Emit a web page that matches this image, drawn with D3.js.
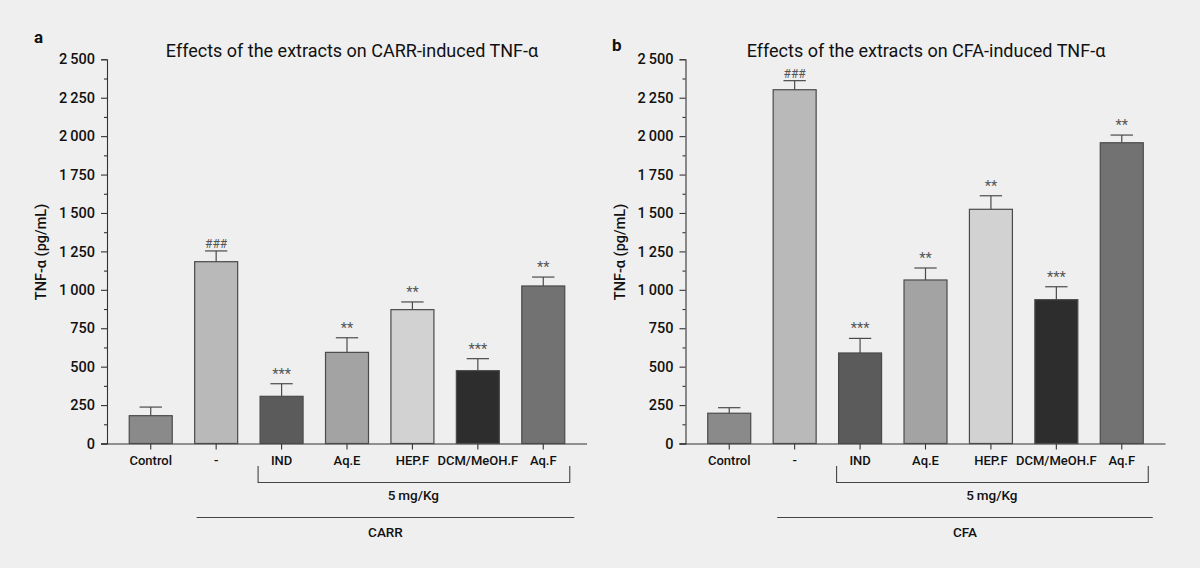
<!DOCTYPE html>
<html>
<head>
<meta charset="utf-8">
<script src="https://cdn.jsdelivr.net/npm/d3@7"></script>
<style>
  html, body { margin: 0; padding: 0; background: #efefef; }
  svg { display: block; font-family: Roboto, "Open Sans", sans-serif; font-weight: 500; }
</style>
</head>
<body>
<svg id="chart" width="1200" height="568"></svg>
<script>
// groups on the x axis
const groups = ["Control", "-", "IND", "Aq.E", "HEP.F", "DCM/MeOH.F", "Aq.F"];

// panel a : CARR
const carrMean = [181, 1183, 307, 593, 871, 474, 1025];
const carrSem = [56, 70, 82, 95, 50, 78, 58];
const carrSig = ["", "###", "***", "**", "**", "***", "**"];

// panel b : CFA
const cfaMean = [197, 2302, 589, 1064, 1524, 936, 1957];
const cfaSem = [36, 59, 95, 78, 88, 84, 50];
const cfaSig = ["", "###", "***", "**", "**", "***", "**"];

const yTicks = [0, 250, 500, 750, 1000, 1250, 1500, 1750, 2000, 2250, 2500];
const yMinor = [125, 375, 625, 875, 1125, 1375, 1625, 1875, 2125, 2375];

const barFill = ["#8a8a8a", "#b9b9b9", "#5b5b5b", "#a3a3a3", "#d2d2d2", "#2d2d2d", "#727272"];

const svg = d3.select("#chart");
const fmt = d3.formatLocale({ decimal: ".", thousands: "\u2009", grouping: [3], currency: ["", ""] }).format(",");

function drawPanel(opt) {
  const g = svg.append("g");
  const x = d3.scaleBand().domain(groups).range([opt.x0, opt.x0 + 480])
    .paddingInner(0.343).paddingOuter(0.34);
  const y = d3.scaleLinear().domain([0, 2500]).range([443.5, 59.3]);
  const color = d3.scaleOrdinal().domain(groups).range(barFill);
  const bw = x.bandwidth();

  // y axis
  const ya = g.append("g").attr("transform", `translate(${opt.x0},0)`)
    .call(d3.axisLeft(y).tickValues(yTicks).tickSize(6).tickPadding(6).tickFormat(d => fmt(d)));
  ya.attr("font-family", null);
  ya.selectAll("text").attr("font-size", 14.5).attr("fill", "#111");
  const ym = g.append("g").attr("transform", `translate(${opt.x0},0)`)
    .call(d3.axisLeft(y).tickValues(yMinor).tickSize(3).tickFormat(""));
  ym.select(".domain").remove();
  g.selectAll(".domain, .tick line").attr("stroke", "#333").attr("stroke-width", 1.1);

  // x axis
  const xa = g.append("g").attr("transform", `translate(0,${y(0)})`)
    .call(d3.axisBottom(x).tickSize(6).tickPadding(6).tickSizeOuter(0));
  xa.attr("font-family", null);
  xa.select(".domain").attr("d", `M${opt.x0 - 6},0.5H${opt.x0 + 480}`);
  xa.selectAll(".domain, .tick line").attr("stroke", "#333").attr("stroke-width", 1.1);
  xa.selectAll("text").attr("font-size", 13).attr("fill", "#111").attr("dy", "0.71em");

  // bars
  g.selectAll("rect.bar").data(opt.mean).enter().append("rect")
    .attr("class", "bar")
    .attr("x", (d, i) => x(groups[i]))
    .attr("width", bw)
    .attr("y", d => y(d))
    .attr("height", d => y(0) - y(d))
    .attr("fill", (d, i) => color(groups[i]))
    .attr("stroke", "#4a4a4a")
    .attr("stroke-width", 1.2);

  // error bars (upper only)
  const cap = bw * 0.26;
  opt.mean.forEach((m, i) => {
    const cx = x(groups[i]) + bw / 2;
    const top = y(m + opt.sem[i]);
    g.append("line").attr("x1", cx).attr("x2", cx).attr("y1", y(m)).attr("y2", top)
      .attr("stroke", "#4a4a4a").attr("stroke-width", 1.2);
    g.append("line").attr("x1", cx - cap).attr("x2", cx + cap).attr("y1", top).attr("y2", top)
      .attr("stroke", "#4a4a4a").attr("stroke-width", 1.2);
    if (opt.sig[i]) {
      const hash = opt.sig[i][0] === "#";
      g.append("text").attr("x", cx).attr("y", hash ? top - 2.5 : top - 5)
        .attr("text-anchor", "middle")
        .attr("font-size", hash ? 12 : 14.5)
        .attr("font-weight", 400)
        .attr("fill", "#555")
        .text(opt.sig[i]);
    }
  });

  // dose bracket
  const bx1 = x("IND") - 2, bx2 = x("Aq.F") + bw + 5;
  g.append("path").attr("d", `M${bx1},466V482.5H${bx2}V466`)
    .attr("fill", "none").attr("stroke", "#444").attr("stroke-width", 1.1);
  g.append("text").attr("x", x("HEP.F") + bw / 2 + 1).attr("y", 500)
    .attr("text-anchor", "middle").attr("font-size", 13.5).attr("fill", "#111")
    .text("5\u2009mg/Kg");

  // inducer line
  const lx1 = x("-") + 2 + opt.lineShift, lx2 = x("Aq.F") + bw + 9.5;
  g.append("line").attr("x1", lx1).attr("x2", lx2).attr("y1", 517.5).attr("y2", 517.5)
    .attr("stroke", "#444").attr("stroke-width", 1.1);
  g.append("text").attr("x", (lx1 + lx2) / 2).attr("y", 537)
    .attr("text-anchor", "middle").attr("font-size", 13.5).attr("fill", "#111")
    .text(opt.inducer);

  // y label
  g.append("text").attr("transform", `translate(${opt.x0 - 61},252) rotate(-90)`)
    .attr("text-anchor", "middle").attr("font-size", 14.5).attr("fill", "#111")
    .text("TNF-α (pg/mL)");

  // title and panel letter
  g.append("text").attr("x", opt.titleX).attr("y", 57.3)
    .attr("text-anchor", "middle").attr("font-size", 18).attr("font-weight", 400).attr("fill", "#111")
    .text(opt.title);
  g.append("text").attr("x", opt.letterX).attr("y", opt.letterY)
    .attr("font-size", 17).attr("font-weight", "bold").attr("fill", "#111")
    .text(opt.letter);
}

drawPanel({
  x0: 107, mean: carrMean, sem: carrSem, sig: carrSig, inducer: "CARR",
  title: "Effects of the extracts on CARR-induced TNF-α", titleX: 352,
  letter: "a", letterX: 34, letterY: 42.7, lineShift: 0
});
drawPanel({
  x0: 685.5, mean: cfaMean, sem: cfaSem, sig: cfaSig, inducer: "CFA",
  title: "Effects of the extracts on CFA-induced TNF-α", titleX: 926,
  letter: "b", letterX: 612, letterY: 50.5, lineShift: 2
});
</script>
</body>
</html>
